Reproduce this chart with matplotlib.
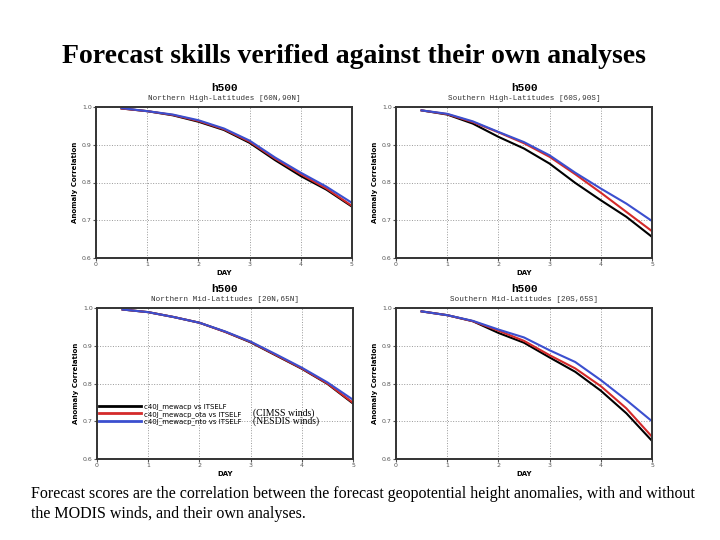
import numpy as np
import matplotlib.pyplot as plt

# forecast day
day = [0.5, 1.0, 1.5, 2.0, 2.5, 3.0, 3.5, 4.0, 4.5, 5.0]

# anomaly correlation, h500
nh_high_ctl = [0.996, 0.989, 0.978, 0.961, 0.939, 0.905, 0.859, 0.817, 0.781, 0.736]
nh_high_ota = [0.996, 0.989, 0.979, 0.963, 0.941, 0.908, 0.863, 0.822, 0.784, 0.738]
nh_high_nto = [0.997, 0.989, 0.980, 0.965, 0.943, 0.911, 0.866, 0.826, 0.789, 0.746]

sh_high_ctl = [0.991, 0.980, 0.956, 0.921, 0.890, 0.850, 0.799, 0.753, 0.709, 0.656]
sh_high_ota = [0.991, 0.981, 0.960, 0.933, 0.904, 0.868, 0.822, 0.773, 0.722, 0.671]
sh_high_nto = [0.991, 0.982, 0.962, 0.934, 0.907, 0.872, 0.826, 0.784, 0.744, 0.698]

nh_mid_ctl = [0.996, 0.989, 0.976, 0.961, 0.937, 0.909, 0.874, 0.839, 0.799, 0.747]
nh_mid_ota = [0.996, 0.989, 0.976, 0.961, 0.937, 0.910, 0.875, 0.840, 0.800, 0.749]
nh_mid_nto = [0.996, 0.989, 0.976, 0.961, 0.938, 0.911, 0.877, 0.842, 0.803, 0.757]

sh_mid_ctl = [0.991, 0.981, 0.965, 0.934, 0.908, 0.869, 0.831, 0.781, 0.721, 0.648]
sh_mid_ota = [0.991, 0.981, 0.965, 0.940, 0.913, 0.875, 0.840, 0.793, 0.734, 0.659]
sh_mid_nto = [0.991, 0.981, 0.966, 0.943, 0.922, 0.888, 0.857, 0.809, 0.756, 0.700]

panels = [
    ("Northern High-Latitudes [60N,90N]", nh_high_ctl, nh_high_ota, nh_high_nto),
    ("Southern High-Latitudes [60S,90S]", sh_high_ctl, sh_high_ota, sh_high_nto),
    ("Northern Mid-Latitudes [20N,65N]", nh_mid_ctl, nh_mid_ota, nh_mid_nto),
    ("Southern Mid-Latitudes [20S,65S]", sh_mid_ctl, sh_mid_ota, sh_mid_nto),
]
labels = ["c40J_mewacp vs ITSELF", "c40J_mewacp_ota vs ITSELF", "c40J_mewacp_nto vs ITSELF"]
colors = ["black", "#d42a2a", "#3b4fcf"]

yticks = [0.6, 0.7, 0.8, 0.9, 1.0]
ytick_labels = ["0.6", "0.7", "0.8", "0.9", "1.0"]

fig = plt.figure(figsize=(7.2, 5.4), dpi=100)

# pixel boxes of the four panels (left, top)
boxes = [(96, 107), (396, 107), (97, 308), (396, 308)]
W, H = 256, 151

for (sub, ctl, ota, nto), (px, py) in zip(panels, boxes):
    ax = fig.add_axes([px / 720, 1 - (py + H) / 540, W / 720, H / 540])
    for ys, c, lab in zip([ctl, ota, nto], colors, labels):
        ax.plot(day, ys, color=c, lw=1.5, label=lab)
    ax.set_xlim(0, 5)
    ax.set_ylim(0.6, 1.0)
    ax.set_xticks(range(6))
    ax.set_yticks(yticks)
    ax.set_yticklabels(ytick_labels)
    ax.tick_params(labelsize=4.5, colors="#555555", length=2, pad=1)
    ax.grid(True, ls=":", color="#999999", lw=0.7)
    for s in ax.spines.values():
        s.set_linewidth(1.4)
        s.set_color("#333333")
    ax.set_xlabel("DAY", fontsize=5, fontweight="bold", labelpad=2)
    ax.set_ylabel("Anomaly Correlation", fontsize=5, fontweight="bold", labelpad=3)
    ax.text(0.5, 1.126, "h500", transform=ax.transAxes, ha="center", va="center",
            fontsize=8, fontweight="bold", family="Liberation Mono")
    ax.text(0.5, 1.053, sub, transform=ax.transAxes, ha="center", va="center",
            fontsize=5.5, family="Liberation Mono", color="#333333")
    if sub.startswith("Northern Mid"):
        ax.legend(loc="lower left", bbox_to_anchor=(-0.01, 0.195), frameon=False,
                  fontsize=5, handlelength=6, labelspacing=0.05, borderpad=0.2,
                  handletextpad=0.5)
        for lh in ax.get_legend().get_lines():
            lh.set_linewidth(2)
        ax.text(0.61, 0.305, "(CIMSS winds)", transform=ax.transAxes, fontsize=7,
                family="Liberation Serif", va="center")
        ax.text(0.61, 0.25, "(NESDIS winds)", transform=ax.transAxes, fontsize=7,
                family="Liberation Serif", va="center")

fig.text(0.492, 0.895, "Forecast skills verified against their own analyses",
         ha="center", va="center", fontsize=20, fontweight="bold", family="Liberation Serif")
fig.text(31 / 720, 1 - 504 / 540,
         "Forecast scores are the correlation between the forecast geopotential height anomalies, with and without\n"
         "the MODIS winds, and their own analyses.",
         ha="left", va="center", fontsize=11.5, family="Liberation Serif", linespacing=1.3)

fig.savefig("out.png", dpi=100)
